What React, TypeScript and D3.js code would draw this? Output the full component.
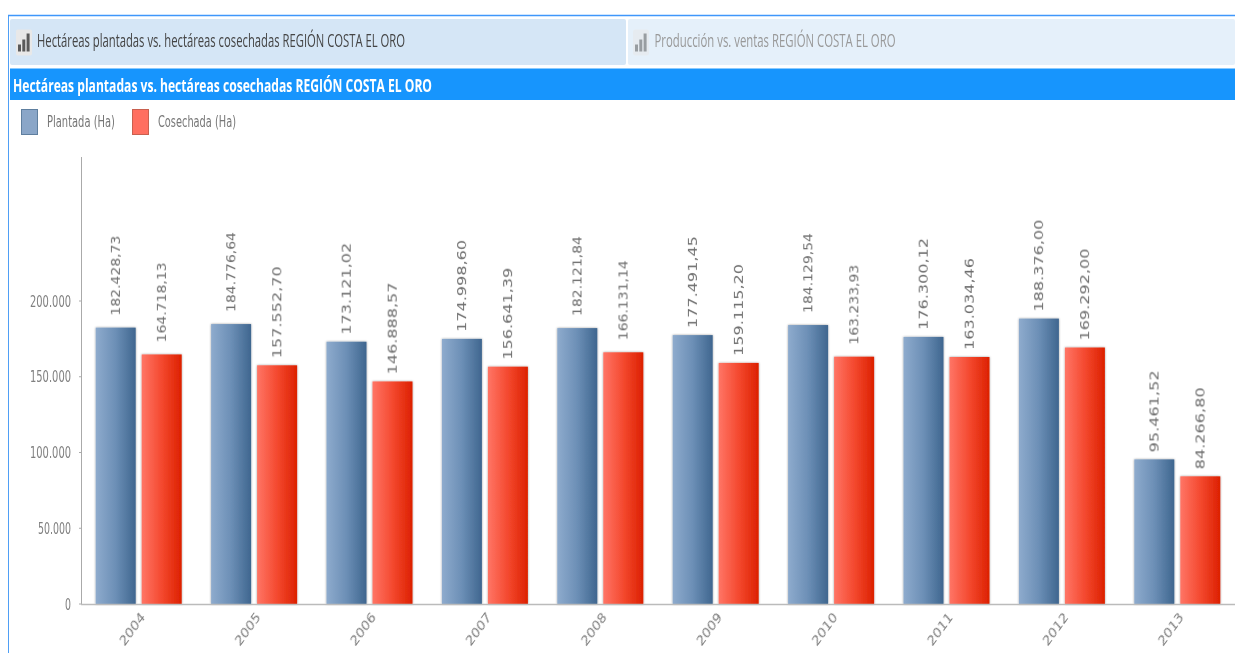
import React from "react";
import * as d3 from "d3";

const years = ["2004","2005","2006","2007","2008","2009","2010","2011","2012","2013"];
const plantada = [182428.73,184776.64,173121.02,174998.60,182121.84,177491.45,184129.54,176300.12,188376.00,95461.52];
const cosechada = [164718.13,157552.70,146888.57,156641.39,166131.14,159115.20,163233.93,163034.46,169292.00,84266.80];
const yTicks = [0,50000,100000,150000,200000];
const seriesNames = ["Plantada (Ha)","Cosechada (Ha)"];
const tabTitle1 = "Hectáreas plantadas vs. hectáreas cosechadas REGIÓN COSTA EL ORO";
const tabTitle2 = "Producción vs. ventas REGIÓN COSTA EL ORO";
// labels that the original renderer set more tightly
const tightLabels = new Set(["182.428,73","164.718,13","184.776,64","182.121,84","166.131,14","184.129,54","163.233,93"]);

const W = 1235, H = 653;
const fmtDE = d3.formatLocale({ decimal: ",", thousands: ".", grouping: [3], currency: ["", ""] });
const fmtVal = fmtDE.format(",.2f");
const fmtTick = fmtDE.format(",.0f");

function Icon({ x, y, o }: { x: number; y: number; o: number }) {
  const hs = [7, 12, 18];
  return (
    <g opacity={o} filter="url(#icon)">
      <rect x={x} y={y} width={16} height={26} rx={2} fill="#e8e8e8" />
      {hs.map((h, i) => (
        <rect key={i} x={x + 2 + i * 4.3} y={y + 22 - h} width={3} height={h} fill="#5a5a5a" />
      ))}
    </g>
  );
}

export default function App() {
  const x = d3.scaleBand().domain(years).range([81, 1235]);
  const y = d3.scaleLinear().domain([0, 200000]).range([604, 301]);
  const barW = 40;
  const off = 3;
  const cx = (yr: string) => (x(yr) as number) + x.bandwidth() / 2;
  const series = [
    { vals: plantada, fill: "url(#gBlue)", side: -1 },
    { vals: cosechada, fill: "url(#gRed)", side: 1 },
  ];
  return (
    <svg width={W} height={H} viewBox={`0 0 ${W} ${H}`} style={{ position: "absolute", left: 0, top: 0, background: "#fff" }}>
      <defs>
        <linearGradient id="gBlue" x1="0" x2="1" y1="0" y2="0">
          <stop offset="0" stopColor="#8eabcd" />
          <stop offset="0.5" stopColor="#6c8fb6" />
          <stop offset="1" stopColor="#3f668f" />
        </linearGradient>
        <linearGradient id="gRed" x1="0" x2="1" y1="0" y2="0">
          <stop offset="0" stopColor="#ff7566" />
          <stop offset="0.5" stopColor="#f4492f" />
          <stop offset="1" stopColor="#dc2000" />
        </linearGradient>
        <filter id="shadow" x="-20%" y="-5%" width="140%" height="110%">
          <feDropShadow dx="0" dy="0" stdDeviation="1.2" floodColor="#000" floodOpacity="0.4" />
        </filter>
        <filter id="soft" x="-5%" y="-20%" width="110%" height="140%">
          <feGaussianBlur stdDeviation="0.4" />
        </filter>
        <filter id="icon" x="-20%" y="-20%" width="140%" height="140%">
          <feGaussianBlur stdDeviation="0.7" />
        </filter>
      </defs>

      <line x1={8.5} x2={8.5} y1={15} y2={H} stroke="#4f9ff5" strokeWidth={1} />
      <line x1={8} x2={W} y1={15.5} y2={15.5} stroke="#3f97fb" strokeWidth={1.5} />
      <rect x={10} y={19} width={616} height={46} rx={2} fill="#d5e6f6" />
      <rect x={628} y={19} width={607} height={46} rx={2} fill="#e5f0fa" />
      <rect x={10} y={68.5} width={1225} height={31.5} fill="#1795fd" />

      <Icon x={16} y={29.5} o={1} />
      <Icon x={633} y={29.5} o={0.55} />

      <g fontFamily="'Open Sans', 'Noto Sans', sans-serif" filter="url(#soft)">
        <text x={37} y={47} fontSize={18} fill="#444" textLength={368} lengthAdjust="spacingAndGlyphs">{tabTitle1}</text>
        <text x={654.5} y={47} fontSize={18} fill="#999" textLength={241} lengthAdjust="spacingAndGlyphs">{tabTitle2}</text>
        <text x={13} y={91.5} fontSize={18} fontWeight={700} fill="#fff" textLength={419} lengthAdjust="spacingAndGlyphs">{tabTitle1}</text>
      </g>

      <rect x={21.5} y={109.5} width={16} height={25} fill="#8aa6c8" stroke="#5f7f9f" />
      <rect x={132.5} y={109.5} width={16} height={25} fill="#ff6f60" stroke="#c9604f" />
      <g fontFamily="'DejaVu Sans', sans-serif" fontSize={15} fill="#777" filter="url(#soft)">
        <text x={47} y={126.5} textLength={68} lengthAdjust="spacingAndGlyphs">{seriesNames[0]}</text>
        <text x={158} y={126.5} textLength={78} lengthAdjust="spacingAndGlyphs">{seriesNames[1]}</text>
      </g>

      {series.map((s, si) =>
        years.map((yr, i) => {
          const bx = s.side < 0 ? cx(yr) - off - barW : cx(yr) + off;
          const top = y(s.vals[i]);
          const label = fmtVal(s.vals[i]);
          const tight = tightLabels.has(label);
          const len = s.vals[i] < 100000 ? 82 : tight ? 80 : 92;
          const gap = tight ? 12 : 7;
          return (
            <g key={`${si}-${yr}`}>
              <rect x={bx} y={top} width={barW} height={604 - top} fill={s.fill} filter="url(#shadow)" />
              <text
                transform={`translate(${bx + barW / 2 + 4.2},${top - gap}) rotate(-90)`}
                fontFamily="'DejaVu Sans', sans-serif"
                fontSize={11.5}
                fill="#6e6e6e"
                textLength={len}
                lengthAdjust="spacingAndGlyphs"
                filter="url(#soft)"
              >
                {label}
              </text>
            </g>
          );
        })
      )}

      <line x1={81.5} x2={81.5} y1={157} y2={604} stroke="#aaa" />
      <line x1={81} x2={W} y1={604.5} y2={604.5} stroke="#bbb" strokeWidth={1.5} />

      {yTicks.map((t) => (
        <g key={t}>
          <line x1={79} x2={81} y1={y(t)} y2={y(t)} stroke="#aaa" />
          <text
            x={71}
            y={y(t) + 5.5}
            textAnchor="end"
            fontFamily="'DejaVu Sans', sans-serif"
            fontSize={15.5}
            fill="#808080"
            textLength={t === 0 ? 6 : t < 100000 ? 33 : 41}
            lengthAdjust="spacingAndGlyphs"
            filter="url(#soft)"
          >
            {fmtTick(t)}
          </text>
        </g>
      ))}

      {years.map((yr) => (
        <text
          key={yr}
          transform={`translate(${cx(yr) + 7.5},617) rotate(-54)`}
          textAnchor="end"
          fontFamily="'DejaVu Sans', sans-serif"
          fontStyle="italic"
          fontSize={12}
          fill="#808080"
          textLength={36}
          lengthAdjust="spacingAndGlyphs"
          filter="url(#soft)"
        >
          {yr}
        </text>
      ))}
    </svg>
  );
}
